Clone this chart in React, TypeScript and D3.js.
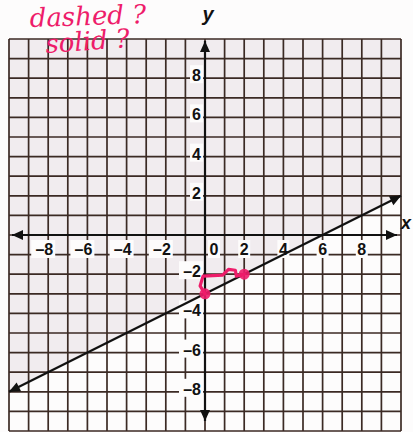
import React from "react";
import * as d3 from "d3";

// Graph of the boundary line y = 1/2 x − 3 on a −10..10 coordinate grid
const W = 413;
const H = 432;
const gridValues = d3.range(-10, 11, 1);
const xTickLabels = [-8, -6, -4, -2, 0, 2, 4, 6, 8];
const yTickLabels = [8, 6, 4, 2, -2, -4, -6, -8];
const slope = 0.5;
const intercept = -3;
// Line endpoints (x values) where it leaves the grid
const lineXs = [-10, 10];
// Plotted points: y-intercept and the point reached by rise 1, run 2
const plottedPoints = [
  { x: 0, y: -3 },
  { x: 2, y: -2 },
];
// Hand-drawn rise/run mark from (0,−3) to (2,−2)
const riseRunStroke = [
  [0, -3],
  [-0.25, -2.6],
  [-0.1, -2.1],
  [0.9, -2.05],
  [1.2, -1.75],
  [1.55, -1.8],
  [1.6, -2.1],
  [2, -2],
];

const x = d3.scaleLinear().domain([-10, 10]).range([9, 401]);
const y = d3.scaleLinear().domain([-10, 10]).range([431, 39]);

const f = (v: number) => slope * v + intercept;

export default function App() {
  const gridColor = "#3b2a24";
  const ink = "#111";
  const red = "#ee1c6a";
  const paper = "#fdfcfc";

  const linePts = lineXs.map((v) => [x(v), y(f(v))] as [number, number]);
  const shade = [
    [x(-10), y(10)],
    [x(10), y(10)],
    [x(10), y(f(10))],
    [x(-10), y(f(-10))],
  ]
    .map((p) => p.join(","))
    .join(" ");

  const strokePath = d3
    .line<number[]>()
    .x((d) => x(d[0]))
    .y((d) => y(d[1]))
    .curve(d3.curveLinear)(riseRunStroke) as string;

  const ang = Math.atan2(linePts[1][1] - linePts[0][1], linePts[1][0] - linePts[0][0]);
  const arrowHead = (px: number, py: number, a: number, len = 11, half = 5) => {
    const bx = px - len * Math.cos(a);
    const by = py - len * Math.sin(a);
    const nx = -Math.sin(a) * half;
    const ny = Math.cos(a) * half;
    return `M${px},${py} L${bx + nx},${by + ny} L${bx - nx},${by - ny} Z`;
  };

  return (
    <svg
      width={W}
      height={H}
      style={{ position: "absolute", left: 0, top: 0, background: paper }}
      fontFamily="'Liberation Sans', Arial, sans-serif"
    >
      {/* faint shading of the half-plane above the line */}
      <polygon points={shade} fill="#f1ecef" />

      {/* grid */}
      {gridValues.map((v) => (
        <line key={"v" + v} x1={x(v)} x2={x(v)} y1={y(10)} y2={y(-10)} stroke={gridColor} strokeWidth={1.7} />
      ))}
      {gridValues.map((v) => (
        <line key={"h" + v} x1={x(-10)} x2={x(10)} y1={y(v)} y2={y(v)} stroke={gridColor} strokeWidth={1.7} />
      ))}

      {/* axes */}
      <line x1={x(-10) + 3} x2={x(10) - 4} y1={y(0)} y2={y(0)} stroke={ink} strokeWidth={2.2} />
      <path d={arrowHead(x(-10) + 3, y(0), Math.PI)} fill={ink} />
      <path d={arrowHead(x(10) - 4, y(0), 0)} fill={ink} />
      <line x1={x(0)} x2={x(0)} y1={y(10) + 2} y2={y(-10) - 10} stroke={ink} strokeWidth={2.2} />
      <path d={arrowHead(x(0), y(10) + 2, -Math.PI / 2)} fill={ink} />
      <path d={arrowHead(x(0), y(-10) - 10, Math.PI / 2)} fill={ink} />

      {/* x tick labels */}
      {xTickLabels.map((v) => {
        const label = v < 0 ? `–${Math.abs(v)}` : `${v}`;
        const cx = v === 0 ? x(0) + 9 : x(v);
        return (
          <g key={"xl" + v}>
            <rect x={cx - (v < 0 ? 17 : 6)} y={y(0) + 5} width={v < 0 ? 24 : 12} height={18} fill={paper} />
            <text
              x={v < 0 ? cx + 5 : cx}
              y={y(0) + 20}
              textAnchor={v < 0 ? "end" : "middle"}
              fontSize={16}
              fontWeight="bold"
              fill={ink}
            >
              {label}
            </text>
          </g>
        );
      })}

      {/* y tick labels */}
      {yTickLabels.map((v) => {
        const label = v < 0 ? `–${Math.abs(v)}` : `${v}`;
        return (
          <g key={"yl" + v}>
            <rect x={x(0) - (v < 0 ? 26 : 15)} y={y(v) - 13} width={v < 0 ? 24 : 13} height={18} fill={paper} />
            <text x={x(0) - 4} y={y(v) + 3} textAnchor="end" fontSize={16} fontWeight="bold" fill={ink}>
              {label}
            </text>
          </g>
        );
      })}

      {/* axis names */}
      <text x={x(0) + 3} y={21} textAnchor="middle" fontSize={20} fontWeight="bold" fontStyle="italic" fill={ink}>
        y
      </text>
      <text x={401} y={y(0) - 6} fontSize={18} fontWeight="bold" fontStyle="italic" fill={ink}>
        x
      </text>

      {/* boundary line */}
      <line
        x1={linePts[0][0]}
        y1={linePts[0][1]}
        x2={linePts[1][0]}
        y2={linePts[1][1]}
        stroke={ink}
        strokeWidth={2.2}
      />
      <path d={arrowHead(linePts[0][0], linePts[0][1], ang + Math.PI)} fill={ink} />
      <path d={arrowHead(linePts[1][0], linePts[1][1], ang)} fill={ink} />

      {/* rise/run marks and plotted points */}
      <path d={strokePath} fill="none" stroke={red} strokeWidth={3.2} strokeLinecap="round" strokeLinejoin="round" />
      {plottedPoints.map((p, i) => (
        <circle key={"p" + i} cx={x(p.x)} cy={y(p.y)} r={5.5} fill={red} opacity={0.9} />
      ))}

      {/* handwritten question */}
      <g fill={red} fontFamily="'DejaVu Serif', serif" fontStyle="italic" fontSize={26}>
        <text x={30} y={27} transform="rotate(-2 30 27)">dashed ?</text>
        <text x={46} y={53} transform="rotate(-4 46 53)">solid ?</text>
      </g>
    </svg>
  );
}
